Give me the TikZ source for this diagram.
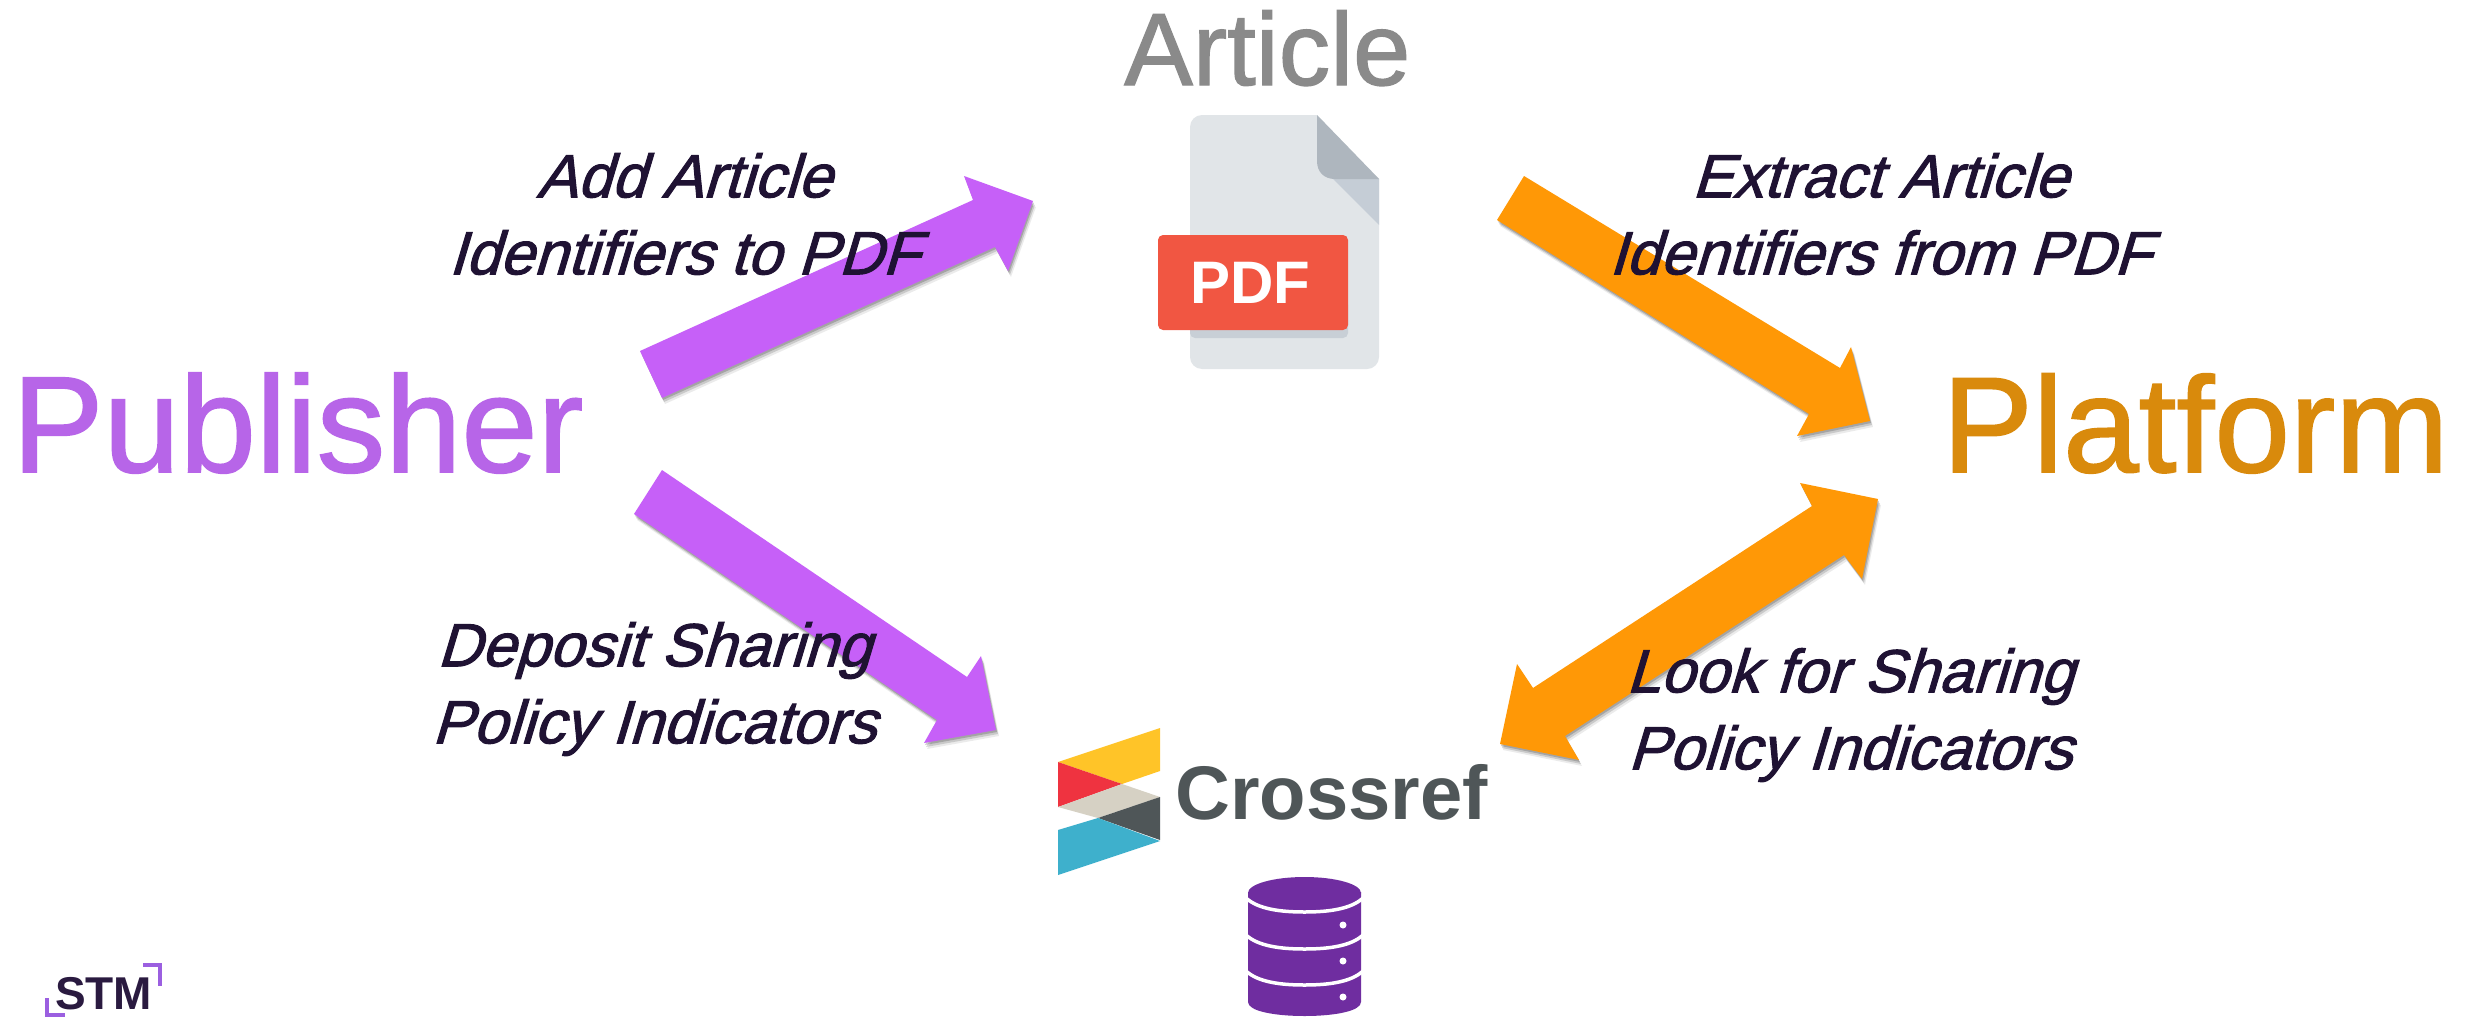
\documentclass[tikz,border=0pt]{standalone}
\usepackage{fontspec}
\setmainfont{Liberation Sans}
\newfontfamily\lblfont[FakeSlant=0.3,FakeBold=1.6]{Liberation Sans}
\newfontfamily\bigfont[FakeBold=1.2]{Liberation Sans}
\usetikzlibrary{shadows,calc}
\definecolor{pubtxt}{HTML}{B765E8}
\definecolor{plattxt}{HTML}{D98A0C}
\definecolor{arttxt}{HTML}{8A8A8A}
\definecolor{labeltxt}{HTML}{1F1233}
\definecolor{purpA}{HTML}{C660F8}
\definecolor{purpB}{HTML}{D276FF}
\definecolor{orgA}{HTML}{FF9806}
\definecolor{orgB}{HTML}{FFA230}
\definecolor{dbpurple}{HTML}{6F2DA0}
\tikzset{
  x=1pt,y=-1pt,
  actor/.style={inner sep=0pt,anchor=base west},
  lbl/.style={inner sep=0pt,align=center,text=labeltxt,font=\fontsize{61}{77}\selectfont\lblfont},
  softshadow/.style={
    drop shadow={shadow xshift=1pt,shadow yshift=-2pt,opacity=.18,fill=black},
    drop shadow={shadow xshift=2pt,shadow yshift=-4pt,opacity=.14,fill=black},
    drop shadow={shadow xshift=3pt,shadow yshift=-6pt,opacity=.08,fill=black}},
  purparrow/.style={softshadow,left color=purpA,middle color=purpB,right color=purpA},
  orgarrow/.style={softshadow,left color=orgA,middle color=orgB,right color=orgA},
}
\begin{document}
\begin{tikzpicture}
\useasboundingbox (0,0) rectangle (2476,1017);
\fill[white] (0,0) rectangle (2476,1017);
% PDF icon
\fill[color={rgb,255:red,225;green,229;blue,232}]
  (1202,115) -- (1317,115) -- (1379,179) -- (1379,357)
  arc[start angle=0,end angle=-90,radius=12pt] -- (1202,369)
  arc[start angle=270,end angle=180,radius=12pt] -- (1190,127)
  arc[start angle=180,end angle=90,radius=12pt] -- cycle;
\fill[color={rgb,255:red,197;green,205;blue,214}] (1333,179) -- (1379,179) -- (1379,225) -- cycle;
\fill[color={rgb,255:red,174;green,182;blue,190}] (1317,115) -- (1379,179) -- (1335,179) .. controls (1324,179) and (1317,172) .. (1317,161) -- cycle;
\fill[color={rgb,255:red,200;green,207;blue,214},rounded corners=5pt] (1190,300) rectangle (1348,338);
\node[name=pdfbadge,fill={rgb,255:red,241;green,86;blue,66},rounded corners=5pt,minimum width=190pt,minimum height=95pt,inner sep=0pt,
  text=white,font=\fontsize{60}{60}\selectfont\bfseries] at (1253,282.5) {\hspace{-6pt}\raisebox{-1pt}{PDF}};
% Crossref logo
\fill[color={rgb,255:red,255;green,196;blue,40}] (1058,762) -- (1160,728) -- (1160,771) -- (1122,784) -- cycle;
\fill[color={rgb,255:red,239;green,51;blue,64}] (1058,762) -- (1122,784) -- (1058,807) -- cycle;
\fill[color={rgb,255:red,214;green,209;blue,196}] (1058,807) -- (1122,784) -- (1160,797) -- (1098,818) -- cycle;
\fill[color={rgb,255:red,79;green,86;blue,88}] (1098,818) -- (1160,797) -- (1160,840) -- cycle;
\fill[color={rgb,255:red,62;green,176;blue,204}] (1058,830) -- (1098,818) -- (1160,841) -- (1058,875) -- cycle;
\node[actor,name=crossref,text={rgb,255:red,79;green,86;blue,88},font=\fontsize{76}{76}\selectfont\bfseries] at (1175,819) {Crossref};
% database
\fill[dbpurple] (1248,892) -- (1361,892) -- (1361,1002) .. controls (1361,1011) and (1335,1016) .. (1304.5,1016) .. controls (1274,1016) and (1248,1011) .. (1248,1002) -- cycle;
\fill[dbpurple] (1304.5,893) ellipse [x radius=56.5pt,y radius=16pt];
\foreach \yy in {898,935,971}{
  \draw[white,line width=3.5pt] (1246,\yy) .. controls (1258,\yy+11) and (1280,\yy+14) .. (1304.5,\yy+14) .. controls (1329,\yy+14) and (1351,\yy+11) .. (1363,\yy);
}
\foreach \yy in {925,961,997}{ \fill[white] (1343,\yy) circle[radius=3.5pt]; }
% STM logo
\node[actor,name=stm,text={rgb,255:red,42;green,26;blue,64},font=\fontsize{46}{46}\selectfont\bfseries] at (55,1009) {STM};
\draw[line width=4pt,color={rgb,255:red,155;green,95;blue,224}] (143,965) -- (160,965) -- (160,986);
\draw[line width=4pt,color={rgb,255:red,155;green,95;blue,224}] (47,998) -- (47,1015) -- (65,1015);
% main nodes
\node[actor,name=publisher,text=pubtxt,font=\fontsize{137}{137}\selectfont\bigfont] at (12,472) {Publisher};
\node[actor,name=platform,text=plattxt,font=\fontsize{136}{136}\selectfont\bigfont] at (1942,472) {Platform};
\node[actor,name=article,text=arttxt,font=\fontsize{103}{103}\selectfont\bigfont] at (1124,85) {Article};
% block arrows
\coordinate (addTailA) at (640,351); \coordinate (addTailB) at (662,398); \coordinate (addTip) at (1033,201);
\shade[purparrow,shading angle=-42] (addTailA) -- (973,200) -- (964,176) -- (addTip) -- (1008,271) -- (995,247) -- (addTailB) -- cycle;
\coordinate (extTailA) at (1524,176); \coordinate (extTailB) at (1497,220); \coordinate (extTip) at (1870,421);
\shade[orgarrow,shading angle=40] (extTailA) -- (1840,368) -- (1851,347) -- (extTip) -- (1797,436) -- (1809,414) -- (extTailB) -- cycle;
\coordinate (depTailA) at (662,470); \coordinate (depTailB) at (634,514); \coordinate (depTip) at (996,730);
\shade[purparrow,shading angle=40] (depTailA) -- (967,677) -- (981,656) -- (depTip) -- (924,743) -- (937,720) -- (depTailB) -- cycle;
\coordinate (lookTipA) at (1878,499); \coordinate (lookTipB) at (1500,744);
\shade[orgarrow,shading angle=-42] (lookTipA) -- (1862,579) -- (1844,555) -- (1565,736) -- (1579,760) -- (lookTipB) -- (1517,664) -- (1533,688) -- (1812,506) -- (1800,483) -- cycle;
% labels
\node[lbl,name=addlbl] at (684,214) {Add Article\\Identifiers to PDF};
\node[lbl,name=extlbl] at (1880,214) {Extract Article\\Identifiers from PDF};
\node[lbl,name=deplbl] at (654,689) {Deposit Sharing\\Policy Indicators};
\node[lbl,name=looklbl] at (1850,715) {Look for Sharing\\Policy Indicators};
\end{tikzpicture}
\end{document}
